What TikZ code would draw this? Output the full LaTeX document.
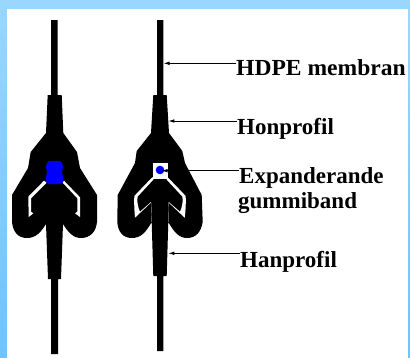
\documentclass[tikz,border=0pt]{standalone}
\usepackage{fontspec}
\setmainfont{Liberation Serif}
\usetikzlibrary{arrows.meta}
\definecolor{framet}{RGB}{153,215,255}
\definecolor{frameb}{RGB}{108,196,255}
\tikzset{
  x=1bp,y=-1bp,
  profile/.style={fill=black,draw=none},
  cavity/.style={fill=white,draw=none},
  band/.style={fill=blue,draw=none},
  seam/.style={draw=black!45,line width=0.4bp},
  leader/.style={draw=black,line width=0.9bp,-{Latex[length=6bp,width=3.6bp]}},
  lbl/.style={anchor=base west,inner sep=0pt,font=\fontsize{23bp}{26bp}\selectfont\bfseries,text=black}
}
\begin{document}
\begin{tikzpicture}
\useasboundingbox (0,0) rectangle (410,358);
\shade[top color=framet,bottom color=frameb] (0,0) rectangle (410,358);
\fill[white] (7,9) rectangle (408,358);

% left profile (open)
\path[profile] (51,20) -- (57.7,20) -- (57.7,95) -- (61.7,95) -- (63.3,133) -- (77,152) -- (80,168) -- (97,195)
  -- (97,222) .. controls (96,232) and (90,238) .. (81,238) .. controls (73,238) and (68,232) .. (63,224)
  -- (61,279) -- (58,279) -- (58,354) -- (51,354) -- (51,279) -- (48,279) -- (46,224)
  .. controls (41,232) and (36,238) .. (27,238) .. controls (18,238) and (13,232) .. (12,222)
  -- (12,195) -- (28,168) -- (30.7,152) -- (46,133) -- (47.7,95) -- (51,95) -- cycle;
\path[cavity] (44,180.7) -- (28.3,196.7) -- (28.7,217) -- (33.3,213.3) -- (31,211.7) -- (31,198.3) -- (46.7,182.7) -- cycle;
\path[cavity] (64,180.7) -- (80,197.3) -- (80,217) -- (75,213.3) -- (77.3,211.7) -- (77.3,198.3) -- (62.7,182.7) -- cycle;
\path[band] (49,161) -- (60,161) .. controls (62,162) and (63,164) .. (63,167) -- (62,171) -- (63.5,180)
  .. controls (63,182) and (62,184) .. (60,184) -- (49,184) .. controls (47,184) and (46,182) .. (45.5,180)
  -- (47,171) -- (46,167) .. controls (46,164) and (47,162) .. (49,161) -- cycle;

% right profile (expanded)
\path[profile] (157,20) -- (163.3,20) -- (163.3,95) -- (166.7,95) -- (169,133) -- (182.3,151) -- (185,163) -- (201.7,195)
  -- (202.7,222) .. controls (201,232) and (196,238) .. (187,238) .. controls (179,238) and (174,232) .. (168.3,222)
  -- (166.7,276) -- (163.3,276) -- (163.3,351) -- (157,351) -- (157,276) -- (153.3,276) -- (151.7,222)
  .. controls (146,232) and (141,238) .. (132,238) .. controls (123,238) and (118,232) .. (117.3,222)
  -- (117.7,195) -- (135,163) -- (136.7,151) -- (151,133) -- (153.3,95) -- (157,95) -- cycle;
\path[cavity] (152.7,163.3) rectangle (168.3,178.5);
\path[cavity] (152.5,177) -- (134.3,196) .. controls (134,205) and (134.5,212) .. (135,217.7)
  -- (151,202.6) -- (151,202) -- (140,211.7) .. controls (138,208) and (136.5,200) .. (137.7,196.5) -- (153.5,179.5) -- cycle;
\path[cavity] (167.5,177) -- (185.7,196) .. controls (186,205) and (185.5,212) .. (184.7,217.7)
  -- (168.7,202.6) -- (168.7,202) -- (180,211.7) .. controls (182,208) and (183.5,200) .. (182.3,196.5) -- (166.5,179.5) -- cycle;
\draw[seam] (151.2,203) -- (151.7,222);
\draw[seam] (168.6,203) -- (168.3,222);
\fill[blue] (160,170) circle[radius=4.3];

% labels
\node[lbl] (hdpe) at (236,75) {\scalebox{1.025}[1]{HDPE membran}};
\node[lbl] (hon) at (237,134) {Honprofil};
\node[lbl] (exp) at (239,183) {Expanderande};
\node[lbl] (gum) at (238,208) {gummiband};
\node[lbl] (han) at (240,267) {Hanprofil};

% connector ends
\coordinate (tipA) at (163.5,63.3);
\coordinate (tipB) at (168.3,121);
\coordinate (tipC) at (161.5,170.7);
\coordinate (tipD) at (168.3,253.3);
\draw[leader] (hdpe.base west |- tipA) -- (tipA);
\draw[leader] (hon.base west |- tipB) -- (tipB);
\draw[leader] (exp.base west |- tipC) -- (tipC);
\draw[leader] (han.base west |- tipD) -- (tipD);
\end{tikzpicture}
\end{document}
